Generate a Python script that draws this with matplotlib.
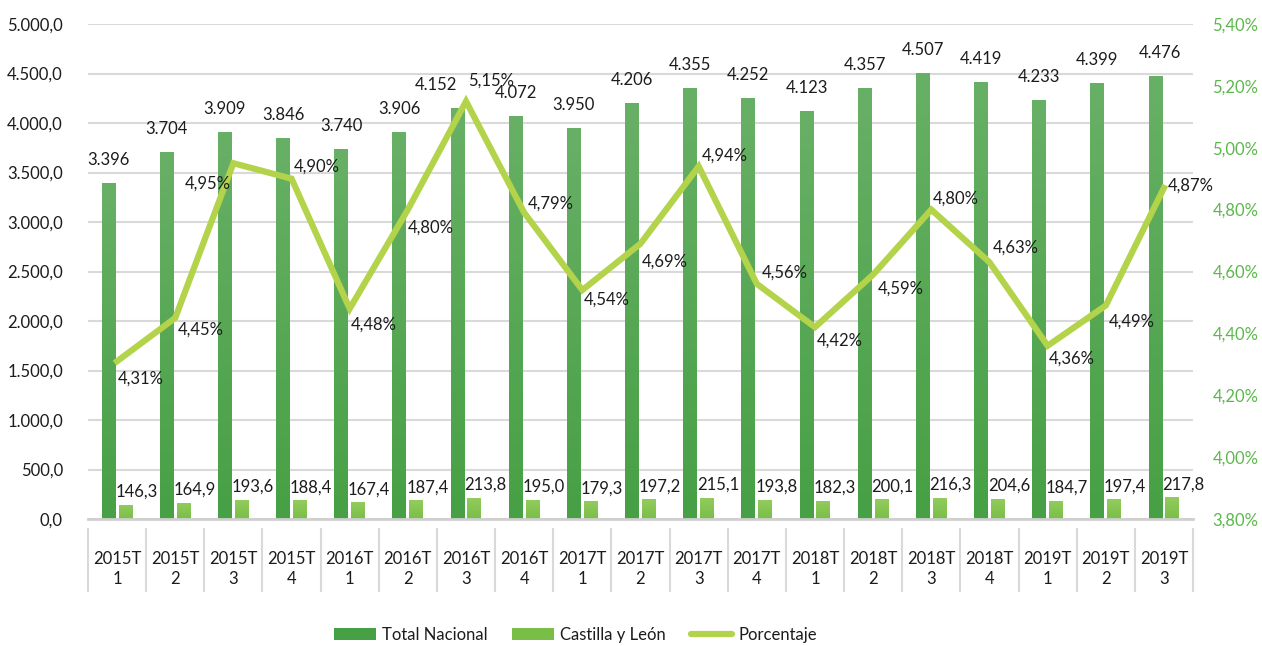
import matplotlib
matplotlib.use("Agg")
import matplotlib.pyplot as plt
import numpy as np
from matplotlib.lines import Line2D
from matplotlib.patches import Patch
from matplotlib.colors import LinearSegmentedColormap

categories = ["2015T\n1", "2015T\n2", "2015T\n3", "2015T\n4",
              "2016T\n1", "2016T\n2", "2016T\n3", "2016T\n4",
              "2017T\n1", "2017T\n2", "2017T\n3", "2017T\n4",
              "2018T\n1", "2018T\n2", "2018T\n3", "2018T\n4",
              "2019T\n1", "2019T\n2", "2019T\n3"]
total_nacional = [3396, 3704, 3909, 3846, 3740, 3906, 4152, 4072, 3950, 4206,
                  4355, 4252, 4123, 4357, 4507, 4419, 4233, 4399, 4476]
castilla_leon = [146.3, 164.9, 193.6, 188.4, 167.4, 187.4, 213.8, 195.0, 179.3, 197.2,
                 215.1, 193.8, 182.3, 200.1, 216.3, 204.6, 184.7, 197.4, 217.8]
porcentaje = [4.31, 4.45, 4.95, 4.90, 4.48, 4.80, 5.15, 4.79, 4.54, 4.69,
              4.94, 4.56, 4.42, 4.59, 4.80, 4.63, 4.36, 4.49, 4.87]
series_names = ["Total Nacional", "Castilla y León", "Porcentaje"]

# label offsets for the percentage labels (pixels: dx to label left edge, dy down)
pct_label_offsets = [(1, 17), (3, 12), (-3, 20), (2, -12), (1, 16), (0, 18), (2, -21),
                     (4, -9), (1, 10), (1, 18), (3, -11), (5, -11), (2, 13), (5, 14),
                     (1, -11), (3, -15), (1, 13), (3, 16), (4, -2)]
# horizontal nudges (pixels) of the total labels
total_label_dx = [0, 0, 0, 0, 0, 0, -22, 0, 0, 0, 0, 0, 0, 0, 0, 0, 0, 0, 4]

FONT = "Lato"
FS = 12
TXT = "#1c1c1c"
TOTAL_TOP, TOTAL_BOT = "#68b066", "#47a045"
CYL_TOP, CYL_BOT = "#93cc5e", "#79be47"
LINE_C = "#b3d34b"
RIGHT_C = "#5cb84c"
GRID_C = "#d9d9d9"

plt.rcParams["font.family"] = [FONT, "DejaVu Sans"]

fig = plt.figure(figsize=(12.62, 6.46), dpi=100)
ax = fig.add_axes([88 / 1262, 1 - 519 / 646, (1193 - 88) / 1262, 495 / 646])
ax2 = ax.twinx()

n = len(categories)
x = np.arange(n)
bw = 0.24
off = 0.145

b1 = ax.bar(x - off, total_nacional, bw, color="none", zorder=2)
b2 = ax.bar(x + off, castilla_leon, bw, color="none", zorder=2)


def grad_fill(bars, ctop, cbot):
    cmap = LinearSegmentedColormap.from_list("g", [cbot, ctop])
    grad = np.linspace(0, 1, 256).reshape(-1, 1)
    for p in bars.patches:
        x0, y0 = p.get_x(), p.get_y()
        w, h = p.get_width(), p.get_height()
        im = ax.imshow(grad, cmap=cmap, origin="lower", aspect="auto",
                       extent=[x0, x0 + w, y0, y0 + h], zorder=2)
        im.set_clip_path(p)


grad_fill(b1, TOTAL_TOP, TOTAL_BOT)
grad_fill(b2, CYL_TOP, CYL_BOT)

ax.set_xlim(-0.5, n - 0.5)
ax.set_ylim(0, 5000)
ax.set_yticks(np.arange(0, 5001, 500))


def fmt_axis(v):
    s = f"{v:,.1f}"
    return s.replace(",", "X").replace(".", ",").replace("X", ".")


ax.set_yticklabels([fmt_axis(v) for v in np.arange(0, 5001, 500)])
ax.grid(axis="y", color=GRID_C, lw=1.5, zorder=0)
ax.set_axisbelow(True)
ax.tick_params(axis="y", length=0, pad=18, labelsize=FS, labelcolor=TXT)
ax.tick_params(axis="x", length=0, labelbottom=False)
for s in ["top", "right", "left"]:
    ax.spines[s].set_visible(False)
ax.spines["bottom"].set_color("#cfcfcf")
ax.spines["bottom"].set_linewidth(2)

# value labels
for i, v in enumerate(total_nacional):
    lbl = f"{v:,.0f}".replace(",", ".")
    ax.annotate(lbl, (x[i] - off, v), xytext=(total_label_dx[i], 23),
                textcoords="offset pixels", ha="center", va="center",
                fontsize=FS, color=TXT, zorder=5)
for i, v in enumerate(castilla_leon):
    lbl = f"{v:.1f}".replace(".", ",")
    ax.annotate(lbl, (x[i] + off, v), xytext=(11, 13), textcoords="offset pixels",
                ha="center", va="center", fontsize=FS, color=TXT, zorder=5)

# category table
xt = ax.get_xaxis_transform()
for i, c in enumerate(categories):
    ax.text(x[i], -0.101, c, transform=xt, ha="center", va="center",
            fontsize=FS, color=TXT, linespacing=1.3)
ax.vlines(np.arange(n + 1) - 0.5, -0.1475, -0.018, transform=xt, colors=GRID_C,
          lw=1.5, clip_on=False)

# line on secondary axis
ax2.plot(x, porcentaje, color=LINE_C, lw=4.5, solid_joinstyle="miter", zorder=3)
ax2.set_ylim(3.8, 5.4)
rt = np.round(np.arange(3.8, 5.41, 0.2), 2)
ax2.set_yticks(rt)
ax2.set_yticklabels([f"{v:.2f}".replace(".", ",") + "%" for v in rt])
ax2.tick_params(axis="y", length=0, pad=14, labelsize=FS, labelcolor=RIGHT_C)
for s in ax2.spines.values():
    s.set_visible(False)
for i, v in enumerate(porcentaje):
    dx, dy = pct_label_offsets[i]
    ha = "right" if dx < 0 else "left"
    ax2.annotate(f"{v:.2f}".replace(".", ",") + "%", (x[i], v), xytext=(dx, -dy),
                 textcoords="offset pixels", ha=ha, va="center", fontsize=FS,
                 color=TXT, zorder=6)

handles = [Patch(facecolor=TOTAL_BOT, edgecolor="none"),
           Patch(facecolor=CYL_BOT, edgecolor="none"),
           Line2D([0], [0], color=LINE_C, lw=4.5, solid_capstyle="round")]
fig.legend(handles, series_names, loc="center", bbox_to_anchor=(0.456, 1 - 635 / 646),
           ncol=3, frameon=False, fontsize=FS, handlelength=2.5, handleheight=0.7,
           handletextpad=0.35, columnspacing=1.5, labelcolor=TXT)

fig.savefig("out.png", dpi=100)
